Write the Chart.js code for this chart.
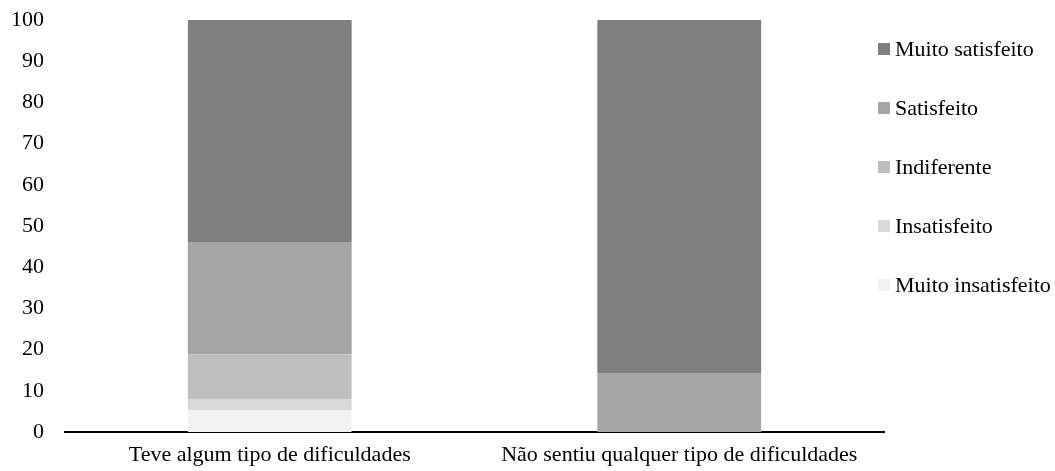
<!DOCTYPE html>
<html>
<head>
<meta charset="utf-8">
<script src="https://cdn.jsdelivr.net/npm/chart.js@4/dist/chart.umd.min.js"></script>
<style>
    html, body { margin: 0; padding: 0; background: #ffffff; }
    #wrap { width: 1055px; height: 471px; position: relative; }
</style>
</head>
<body>
<div id="wrap"><canvas id="chart"></canvas></div>
<script>
// Satisfaction by difficulty group (percent)
const categories = ['Teve algum tipo de dificuldades', 'Não sentiu qualquer tipo de dificuldades'];
const seriesNames = ['Muito insatisfeito', 'Insatisfeito', 'Indiferente', 'Satisfeito', 'Muito satisfeito'];
const muitoInsatisfeito = [5.2, 0];
const insatisfeito = [2.8, 0];
const indiferente = [10.9, 0];
const satisfeito = [27.2, 14.3];
const muitoSatisfeito = [53.9, 85.7];
const yTicks = [0, 10, 20, 30, 40, 50, 60, 70, 80, 90, 100];

const seriesValues = [muitoInsatisfeito, insatisfeito, indiferente, satisfeito, muitoSatisfeito];
const seriesColors = ['#f2f2f2', '#d9d9d9', '#bfbfbf', '#a5a5a5', '#7f7f7f'];
const FONT = "'Liberation Serif', 'Times New Roman', serif";
const FONT_SIZE = 22;

// legend drawn on the right, top item = last series
const sideLegend = {
    id: 'sideLegend',
    afterDraw(chart) {
        const ctx = chart.ctx;
        const sets = chart.data.datasets;
        ctx.save();
        ctx.font = FONT_SIZE + 'px ' + FONT;
        ctx.textBaseline = 'middle';
        ctx.textAlign = 'left';
        for (let i = 0; i < sets.length; i++) {
            const ds = sets[sets.length - 1 - i];
            const cy = 49 + i * 59;
            ctx.fillStyle = ds.backgroundColor;
            ctx.fillRect(878, cy - 6, 12, 12);
            ctx.fillStyle = '#000000';
            ctx.fillText(ds.label, 895, cy + 1);
        }
        ctx.restore();
    }
};

new Chart(document.getElementById('chart'), {
    type: 'bar',
    data: {
        labels: categories,
        datasets: seriesNames.map((name, i) => ({
            label: name,
            data: seriesValues[i],
            backgroundColor: seriesColors[i],
            borderWidth: 0,
            categoryPercentage: 0.4,
            barPercentage: 1
        }))
    },
    options: {
        responsive: true,
        maintainAspectRatio: false,
        animation: false,
        layout: {
            padding: { left: 11, right: 171, top: 20, bottom: 0 }
        },
        plugins: {
            legend: { display: false },
            tooltip: { enabled: false }
        },
        scales: {
            x: {
                stacked: true,
                grid: { display: false, drawTicks: false },
                border: { display: true, color: '#000000', width: 2 },
                afterFit: (axis) => { axis.height = 39; },
                ticks: {
                    color: '#000000',
                    padding: 10,
                    maxRotation: 0,
                    font: { family: FONT, size: FONT_SIZE }
                }
            },
            y: {
                stacked: true,
                min: 0,
                max: 100,
                afterBuildTicks: (axis) => { axis.ticks = yTicks.map(v => ({ value: v })); },
                afterFit: (axis) => {
                    axis.width = 54;
                    axis.paddingTop = 0;
                    axis.paddingBottom = 0;
                },
                grid: { display: false, drawTicks: false },
                border: { display: false },
                ticks: {
                    color: '#000000',
                    padding: 21,
                    font: { family: FONT, size: FONT_SIZE }
                }
            }
        }
    },
    plugins: [sideLegend]
});
</script>
</body>
</html>
